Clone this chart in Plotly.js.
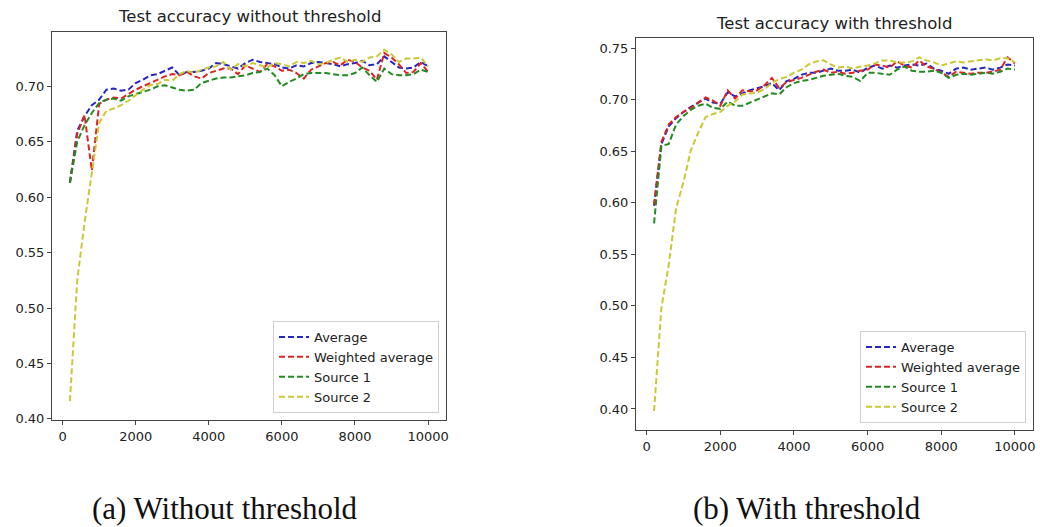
<!DOCTYPE html>
<html>
<head>
<meta charset="utf-8">
<script src="https://cdn.plot.ly/plotly-3.0.1.min.js"></script>
<style>html,body{margin:0;padding:0;background:#fff;}#chart{width:1040px;height:527px;}</style>
</head>
<body>
<div id="chart"></div>
<script>
// Training steps (x values)
const steps = [200,400,600,800,1000,1200,1400,1600,1800,2000,2200,2400,2600,2800,3000,3200,3400,3600,3800,4000,
  4200,4400,4600,4800,5000,5200,5400,5600,5800,6000,6200,6400,6600,6800,7000,7200,7400,7600,7800,8000,
  8200,8400,8600,8800,9000,9200,9400,9600,9800,10000];

const seriesNames = ["Average", "Weighted average", "Source 1", "Source 2"];

// (a) Without threshold
const noThrAverage = [0.613,0.660,0.673,0.683,0.688,0.697,0.698,0.696,0.697,0.703,0.706,0.710,0.711,0.714,0.717,0.710,0.713,0.713,0.714,0.716,
  0.721,0.720,0.718,0.716,0.721,0.724,0.722,0.721,0.720,0.717,0.716,0.719,0.718,0.721,0.722,0.721,0.720,0.718,0.720,0.721,
  0.723,0.719,0.720,0.727,0.722,0.717,0.716,0.717,0.722,0.718];
const noThrWeighted = [0.613,0.657,0.674,0.624,0.684,0.688,0.690,0.689,0.693,0.697,0.700,0.703,0.706,0.709,0.711,0.710,0.713,0.709,0.707,0.712,
  0.714,0.716,0.716,0.711,0.719,0.716,0.713,0.720,0.718,0.714,0.715,0.712,0.707,0.715,0.718,0.721,0.722,0.719,0.724,0.722,
  0.717,0.714,0.706,0.730,0.726,0.720,0.712,0.713,0.721,0.713];
const noThrSource1 = [0.613,0.650,0.665,0.676,0.685,0.688,0.689,0.687,0.691,0.693,0.695,0.697,0.700,0.701,0.699,0.697,0.696,0.697,0.703,0.705,
  0.707,0.708,0.708,0.709,0.710,0.712,0.713,0.716,0.710,0.700,0.704,0.707,0.711,0.712,0.712,0.712,0.711,0.710,0.710,0.712,
  0.717,0.710,0.704,0.716,0.711,0.710,0.710,0.711,0.715,0.713];
const noThrSource2 = [0.416,0.525,0.577,0.620,0.667,0.678,0.680,0.683,0.687,0.692,0.697,0.701,0.702,0.706,0.705,0.711,0.714,0.712,0.715,0.717,
  0.718,0.722,0.715,0.720,0.718,0.721,0.719,0.717,0.721,0.720,0.718,0.722,0.721,0.723,0.720,0.721,0.724,0.726,0.722,0.724,
  0.722,0.726,0.727,0.733,0.729,0.722,0.725,0.725,0.726,0.718];

// (b) With threshold
const thrAverage = [0.597,0.657,0.674,0.682,0.688,0.693,0.697,0.701,0.697,0.696,0.707,0.703,0.706,0.709,0.711,0.713,0.716,0.709,0.718,0.720,
  0.724,0.726,0.726,0.728,0.730,0.728,0.728,0.729,0.726,0.731,0.733,0.730,0.733,0.731,0.733,0.734,0.733,0.735,0.730,0.728,
  0.725,0.730,0.731,0.729,0.730,0.731,0.729,0.731,0.734,0.733];
const thrWeighted = [0.598,0.659,0.676,0.683,0.688,0.692,0.697,0.702,0.699,0.694,0.709,0.701,0.709,0.708,0.709,0.714,0.721,0.711,0.717,0.719,
  0.721,0.724,0.727,0.729,0.726,0.727,0.725,0.726,0.728,0.729,0.734,0.733,0.731,0.737,0.733,0.731,0.738,0.732,0.730,0.726,
  0.722,0.727,0.726,0.725,0.726,0.726,0.727,0.729,0.741,0.735];
const thrSource1 = [0.580,0.655,0.657,0.676,0.684,0.690,0.694,0.696,0.692,0.691,0.698,0.694,0.694,0.697,0.700,0.703,0.706,0.705,0.712,0.716,
  0.718,0.719,0.721,0.723,0.724,0.725,0.723,0.722,0.718,0.726,0.726,0.725,0.724,0.729,0.732,0.728,0.727,0.727,0.728,0.726,
  0.721,0.724,0.725,0.724,0.725,0.726,0.725,0.727,0.730,0.729];
const thrSource2 = [0.398,0.498,0.540,0.595,0.620,0.651,0.668,0.683,0.686,0.688,0.694,0.698,0.705,0.706,0.707,0.710,0.716,0.720,0.722,0.726,
  0.729,0.734,0.737,0.738,0.734,0.731,0.732,0.730,0.732,0.733,0.735,0.738,0.738,0.736,0.736,0.737,0.741,0.738,0.736,0.733,
  0.735,0.737,0.736,0.737,0.738,0.739,0.738,0.740,0.740,0.736];

const yTicks = [0.40,0.45,0.50,0.55,0.60,0.65,0.70,0.75];
const yTickText = ["0.40","0.45","0.50","0.55","0.60","0.65","0.70","0.75"];
const xTicks = [0,2000,4000,6000,8000,10000];
const xTickText = ["0","2000","4000","6000","8000","10000"];

const colors = ["#2626c4", "#dd2424", "#228b22", "#c9c935"];
const font = "DejaVu Sans, sans-serif";

function mk(y, i, xa, ya, leg) {
  return {
    x: steps, y: y, type: "scatter", mode: "lines", name: seriesNames[i],
    xaxis: xa, yaxis: ya, legend: leg,
    line: {color: colors[i], width: 2, dash: "6px,3px"},
    hoverinfo: "skip"
  };
}

const data = [
  mk(noThrAverage, 0, "x", "y", "legend"),
  mk(noThrWeighted, 1, "x", "y", "legend"),
  mk(noThrSource1, 2, "x", "y", "legend"),
  mk(noThrSource2, 3, "x", "y", "legend"),
  mk(thrAverage, 0, "x2", "y2", "legend2"),
  mk(thrWeighted, 1, "x2", "y2", "legend2"),
  mk(thrSource1, 2, "x2", "y2", "legend2"),
  mk(thrSource2, 3, "x2", "y2", "legend2")
];

const axBase = {
  showline: true, mirror: true, linecolor: "#444", linewidth: 1,
  ticks: "outside", ticklen: 4, tickcolor: "#444", showgrid: false, zeroline: false,
  tickfont: {family: font, size: 13, color: "#222"}
};

const legBase = {
  bgcolor: "rgba(255,255,255,0.9)", bordercolor: "#d0d0d0", borderwidth: 1,
  font: {family: font, size: 13, color: "#222"}, xanchor: "right", yanchor: "bottom",
  tracegroupgap: 0
};

const layout = {
  width: 1040, height: 527,
  margin: {l: 0, r: 0, t: 0, b: 0},
  paper_bgcolor: "#fff", plot_bgcolor: "#fff",
  showlegend: true,
  xaxis: Object.assign({}, axBase, {domain: [52/1040, 446/1040], range: [-290, 10490], tickmode: "array", tickvals: xTicks, ticktext: xTickText, anchor: "y"}),
  yaxis: Object.assign({}, axBase, {domain: [1-420/527, 1-32/527], range: [0.399, 0.749], tickmode: "array", tickvals: yTicks, ticktext: yTickText, anchor: "x"}),
  xaxis2: Object.assign({}, axBase, {domain: [636/1040, 1033/1040], range: [-290, 10490], tickmode: "array", tickvals: xTicks, ticktext: xTickText, anchor: "y2"}),
  yaxis2: Object.assign({}, axBase, {domain: [1-430/527, 1-38/527], range: [0.3796, 0.7597], tickmode: "array", tickvals: yTicks, ticktext: yTickText, anchor: "x2"}),
  legend: Object.assign({}, legBase, {x: 439/1040, y: 1-413/527}),
  legend2: Object.assign({}, legBase, {x: 1026/1040, y: 1-423/527}),
  annotations: [
    {text: "Test accuracy without threshold", xref: "paper", yref: "paper", x: 249/1040, y: 1-16/527,
     showarrow: false, xanchor: "center", yanchor: "middle", font: {family: font, size: 16.5, color: "#222"}},
    {text: "Test accuracy with threshold", xref: "paper", yref: "paper", x: 834/1040, y: 1-23/527,
     showarrow: false, xanchor: "center", yanchor: "middle", font: {family: font, size: 16.5, color: "#222"}},
    {text: "(a) Without threshold", xref: "paper", yref: "paper", x: 225/1040, y: 1-508/527,
     showarrow: false, xanchor: "center", yanchor: "middle", font: {family: "Liberation Serif, serif", size: 31, color: "#111"}},
    {text: "(b) With threshold", xref: "paper", yref: "paper", x: 807/1040, y: 1-508/527,
     showarrow: false, xanchor: "center", yanchor: "middle", font: {family: "Liberation Serif, serif", size: 31, color: "#111"}}
  ]
};

Plotly.newPlot("chart", data, layout, {staticPlot: true, displayModeBar: false});
</script>
</body>
</html>
